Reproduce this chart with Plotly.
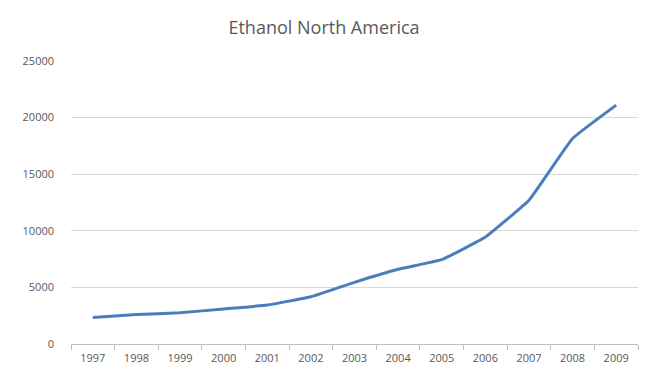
import plotly.graph_objects as go

# Ethanol production, North America
years = ["1997", "1998", "1999", "2000", "2001", "2002", "2003",
         "2004", "2005", "2006", "2007", "2008", "2009"]
production = [2350, 2600, 2760, 3100, 3440, 4170, 5450,
              6600, 7450, 9450, 12700, 18150, 21100]
y_ticks = [0, 5000, 10000, 15000, 20000, 25000]

fig = go.Figure(
    go.Scatter(
        x=years,
        y=production,
        mode="lines",
        line=dict(color="#4A7EBB", width=3, shape="spline", smoothing=0.3),
        showlegend=False,
    )
)

fig.update_layout(
    width=648,
    height=385,
    paper_bgcolor="white",
    plot_bgcolor="white",
    margin=dict(l=71, r=10, t=61, b=41),
    title=dict(
        text="Ethanol North America",
        x=0.5,
        xanchor="center",
        y=1 - 28 / 385,
        yanchor="middle",
        font=dict(family="Open Sans, Liberation Sans, sans-serif", size=18, color="#595959"),
    ),
    font=dict(family="Open Sans, Liberation Sans, sans-serif", size=11, color="#595959"),
)

fig.update_xaxes(
    type="category",
    range=[-0.5, len(years) - 0.5],
    showgrid=False,
    showline=True,
    linecolor="#BFBFBF",
    linewidth=1,
    ticks="outside",
    tickson="boundaries",
    ticklen=5,
    tickcolor="#BFBFBF",
    ticklabelstandoff=4,
    tickfont=dict(size=11, color="#595959"),
)

fig.update_yaxes(
    range=[0, 25000],
    tickvals=y_ticks,
    ticktext=[str(v) for v in y_ticks],
    showgrid=True,
    gridcolor="#D9D9D9",
    gridwidth=1,
    zeroline=False,
    showline=False,
    ticks="",
    ticklabelstandoff=16,
    tickfont=dict(size=11, color="#595959"),
)

fig.write_html("out.html")
